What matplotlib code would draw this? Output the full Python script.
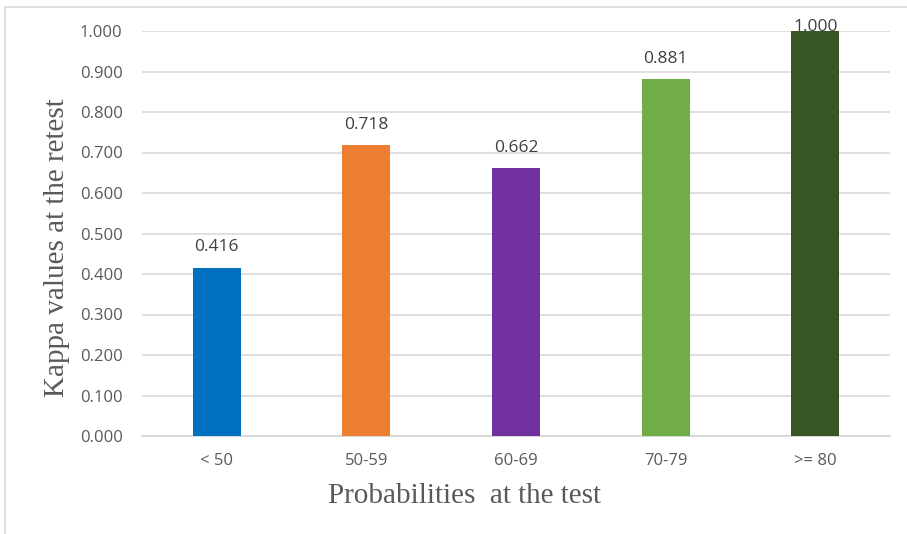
import matplotlib.pyplot as plt
from matplotlib.patches import Rectangle

categories = ['< 50', '50-59', '60-69', '70-79', '>= 80']
kappa = [0.416, 0.718, 0.662, 0.881, 1.000]
colors = ['#0070C0', '#ED7D31', '#7030A0', '#70AD47', '#375623']
yticks = [i / 10 for i in range(11)]

fig = plt.figure(figsize=(9.07, 5.34), dpi=100)
ax = fig.add_axes([142 / 907, 1 - 436 / 534, 748 / 907, 405 / 534])

x = list(range(len(categories)))
bars = ax.bar(x, kappa, width=0.32, color=colors, zorder=3)

# labels sit above the bars, but never above the plot top (like Excel)
for xi, v in zip(x, kappa):
    ax.text(xi, min(v + 0.04, 1.0), f'{v:.3f}', ha='center', va='baseline',
            fontsize=12.5, color='#404040', family='Open Sans', zorder=4)

ax.set_xlim(-0.5, 4.5)
ax.set_ylim(0, 1.0)
ax.set_yticks(yticks)
ax.set_yticklabels([f'{t:.3f}' for t in yticks])
ax.set_xticks(x)
ax.set_xticklabels(categories)
ax.grid(axis='y', color='#d9d9d9', linewidth=1.2, zorder=0)
ax.tick_params(length=0, labelsize=12, labelcolor='#595959', pad=12)
ax.tick_params(axis='y', pad=14)
for lab in ax.get_xticklabels() + ax.get_yticklabels():
    lab.set_family('Open Sans')
for s in ['top', 'right', 'left']:
    ax.spines[s].set_visible(False)
ax.spines['bottom'].set_color('#d9d9d9')
ax.spines['bottom'].set_linewidth(1.5)

fig.text(464 / 907, 1 - 496 / 534, 'Probabilities  at the test', ha='center', va='center',
         fontsize=21, color='#595959', family='Liberation Serif')
fig.text(57 / 907, 1 - 248 / 534, 'Kappa values at the retest', ha='center', va='center',
         rotation=90, fontsize=21, color='#595959', family='Liberation Serif')

fig.patches.append(Rectangle((5 / 907, -0.05), 1.2, 1 - 7 / 534 + 0.05,
                             transform=fig.transFigure, fill=False,
                             edgecolor='#d9d9d9', linewidth=1.2))

fig.savefig('out.png', dpi=100)
